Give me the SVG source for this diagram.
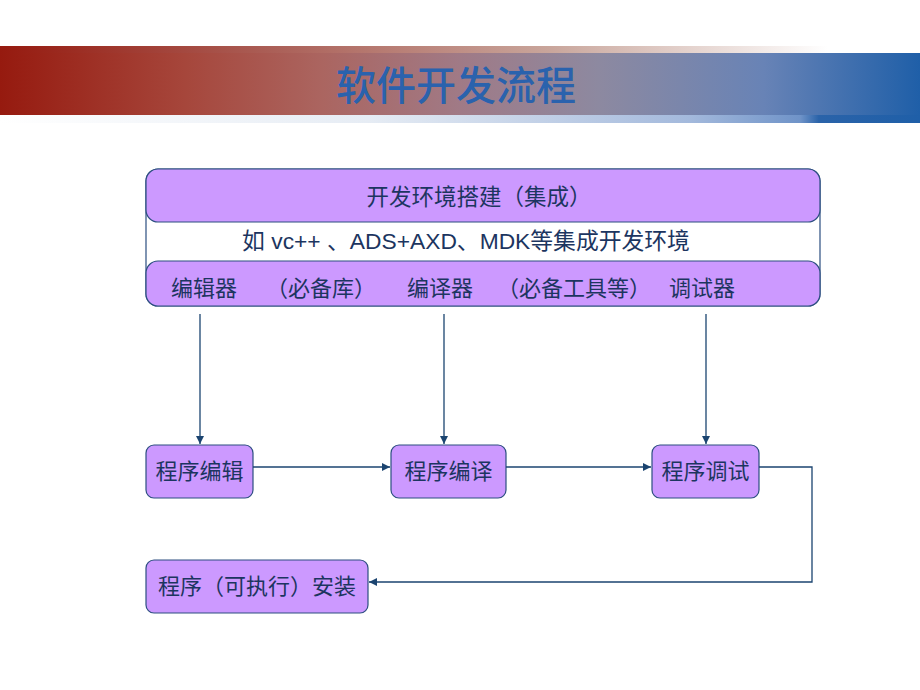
<svg xmlns="http://www.w3.org/2000/svg" width="920" height="690" viewBox="0 0 920 690">
<defs>
<linearGradient id="gMain" x1="0" y1="0" x2="920" y2="0" gradientUnits="userSpaceOnUse">
<stop offset="0" stop-color="#961a0f"/>
<stop offset="0.2" stop-color="#a6463b"/>
<stop offset="0.35" stop-color="#ab6560"/>
<stop offset="0.5" stop-color="#a07a86"/>
<stop offset="0.65" stop-color="#8d89a0"/>
<stop offset="0.83" stop-color="#6883b6"/>
<stop offset="1" stop-color="#1f5fa8"/>
</linearGradient>
<linearGradient id="gTop" x1="0" y1="0" x2="920" y2="0" gradientUnits="userSpaceOnUse">
<stop offset="0" stop-color="#961a0f"/>
<stop offset="0.3" stop-color="#ab6058"/>
<stop offset="0.6" stop-color="#c9a69c"/>
<stop offset="0.9" stop-color="#ffffff"/>
<stop offset="1" stop-color="#ffffff"/>
</linearGradient>
<linearGradient id="gBot" x1="0" y1="0" x2="920" y2="0" gradientUnits="userSpaceOnUse">
<stop offset="0" stop-color="#ffffff"/>
<stop offset="0.4" stop-color="#e6ecf4"/>
<stop offset="0.75" stop-color="#a3b9dc"/>
<stop offset="0.87" stop-color="#6f93c8"/>
<stop offset="0.89" stop-color="#2a63a9"/>
<stop offset="1" stop-color="#1f5fa8"/>
</linearGradient>
<marker id="arr" viewBox="0 0 10 10" refX="10" refY="5" markerWidth="8" markerHeight="8" markerUnits="userSpaceOnUse" orient="auto">
<path d="M0,0 L10,5 L0,10 z" fill="#1b4470"/>
</marker>
</defs>
<style>
.cn{font-family:"Liberation Sans","Noto Sans CJK SC",sans-serif;fill:#1c3560;}
.t{font-size:22px;}
.purple{fill:#cc99ff;stroke:#2c4f80;stroke-width:1.2;}
.conn{fill:none;stroke:#1b4470;stroke-width:1.3;}
</style>
<rect width="920" height="690" fill="#ffffff"/>
<g id="header">
<rect x="0" y="46" width="920" height="8" fill="url(#gTop)"/>
<rect x="0" y="115" width="920" height="8" fill="url(#gBot)"/>
<rect x="0" y="53" width="920" height="62" fill="url(#gMain)"/>
<text x="456" y="100" text-anchor="middle" font-family="'Noto Sans CJK SC',sans-serif" font-size="40" font-weight="500" fill="#2a62ad">软件开发流程</text>
</g>
<g id="env">
<rect x="146" y="169" width="674" height="137" rx="12" fill="#ffffff" stroke="#2c4f80" stroke-width="1.2"/>
<rect class="purple" x="146" y="169" width="674" height="53" rx="12"/>
<rect class="purple" x="146" y="261" width="674" height="45" rx="12"/>
<text class="cn" x="479" y="205" font-size="22.5" text-anchor="middle">开发环境搭建（集成）</text>
<text class="cn" x="466" y="249" font-size="22.8" text-anchor="middle">如 vc++ 、ADS+AXD、MDK等集成开发环境</text>
<text class="cn t" y="296"><tspan x="171">编辑器</tspan><tspan x="266">（必备库）</tspan><tspan x="407">编译器</tspan><tspan x="497">（必备工具等）</tspan><tspan x="669">调试器</tspan></text>
</g>
<g id="n1">
<rect class="purple" x="146" y="445" width="107" height="53" rx="8"/>
<text class="cn t" x="199.5" y="479" text-anchor="middle">程序编辑</text>
</g>
<g id="n2">
<rect class="purple" x="391" y="445" width="115" height="53" rx="8"/>
<text class="cn t" x="448.5" y="479" text-anchor="middle">程序编译</text>
</g>
<g id="n3">
<rect class="purple" x="652" y="445" width="107" height="53" rx="8"/>
<text class="cn t" x="705.5" y="479" text-anchor="middle">程序调试</text>
</g>
<g id="n4">
<rect class="purple" x="146" y="560" width="222" height="53" rx="8"/>
<text class="cn t" x="257" y="594" text-anchor="middle">程序（可执行）安装</text>
</g>
<g id="connectors">
<line class="conn" x1="200" y1="314" x2="200" y2="444" marker-end="url(#arr)"/>
<line class="conn" x1="444" y1="314" x2="444" y2="444" marker-end="url(#arr)"/>
<line class="conn" x1="706" y1="314" x2="706" y2="444" marker-end="url(#arr)"/>
<line class="conn" x1="253" y1="467" x2="390" y2="467" marker-end="url(#arr)"/>
<line class="conn" x1="506" y1="467" x2="651" y2="467" marker-end="url(#arr)"/>
<polyline class="conn" points="759,467 812,467 812,582 369,582" marker-end="url(#arr)"/>
</g>
</svg>
